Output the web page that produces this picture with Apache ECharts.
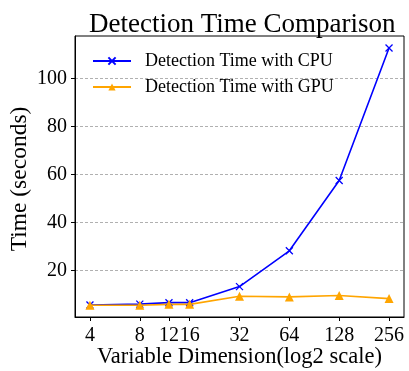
<!DOCTYPE html>
<html>
<head>
<meta charset="utf-8">
<script src="https://cdn.jsdelivr.net/npm/echarts@6/dist/echarts.min.js"></script>
<style>
html, body { margin: 0; padding: 0; background: #fff; }
#chart { width: 409px; height: 371px; }
</style>
</head>
<body>
<div id="chart"></div>
<script>
// data
var dims = [4, 8, 12, 16, 32, 64, 128, 256];
var cpuTimes = [5.6, 6.0, 6.6, 6.6, 13.3, 28.2, 57.5, 112.7];
var gpuTimes = [5.5, 5.5, 5.9, 5.9, 9.3, 9.0, 9.6, 8.3];
var xTicks = [4, 8, 12, 16, 32, 64, 128, 256];
var yTicks = [20, 40, 60, 80, 100];

var FONT = '"Liberation Serif", "Times New Roman", serif';

function pairs(xs, ys) {
    return xs.map(function (x, i) { return [x, ys[i]]; });
}

var chart = echarts.init(document.getElementById('chart'), null, { renderer: 'canvas' });

var option = {
    animation: false,
    backgroundColor: '#fff',
    title: {
        text: 'Detection Time Comparison',
        left: 89,
        top: 11,
        padding: 0,
        textStyle: { fontFamily: FONT, fontSize: 27, fontWeight: 'normal', color: '#000' }
    },
    legend: {
        orient: 'vertical',
        left: 92,
        top: 52,
        padding: 0,
        itemWidth: 38,
        itemHeight: 9,
        itemGap: 8,
        textStyle: { fontFamily: FONT, fontSize: 18, color: '#000', padding: [0, 0, 0, 9] },
        data: ['Detection Time with CPU', 'Detection Time with GPU']
    },
    grid: {
        left: 75,
        right: 5,
        top: 36,
        bottom: 54,
        show: true,
        borderColor: '#000',
        borderWidth: 1,
        containLabel: false,
        outerBoundsMode: 'none'
    },
    xAxis: {
        type: 'log',
        logBase: 2,
        min: 3.249,
        max: 315.2,
        name: 'Variable Dimension(log2 scale)',
        nameLocation: 'middle',
        nameGap: 29,
        nameMoveOverlap: false,
        nameTextStyle: { fontFamily: FONT, fontSize: 22.5, color: '#000' },
        axisLine: { lineStyle: { color: '#000', width: 1 } },
        axisTick: { customValues: xTicks, length: 4, lineStyle: { color: '#000' } },
        axisLabel: {
            customValues: xTicks,
            hideOverlap: false,
            margin: 9,
            fontFamily: FONT, fontSize: 20, color: '#000'
        },
        splitLine: { show: false }
    },
    yAxis: {
        type: 'value',
        min: 0.63,
        max: 117.7,
        name: 'Time (seconds)',
        nameLocation: 'middle',
        nameGap: 43,
        nameMoveOverlap: false,
        nameTextStyle: { fontFamily: FONT, fontSize: 23.5, color: '#000', padding: [0, 5, 0, 0] },
        axisLine: { show: true, lineStyle: { color: '#000', width: 1 } },
        axisTick: { show: true, customValues: yTicks, length: 4, lineStyle: { color: '#000' } },
        axisLabel: {
            customValues: yTicks,
            margin: 8,
            fontFamily: FONT, fontSize: 20, color: '#000'
        },
        splitLine: { show: true, lineStyle: { color: '#b0b0b0', type: [3, 2], width: 1 } }
    },
    series: [
        {
            name: 'Detection Time with CPU',
            type: 'line',
            data: pairs(dims, cpuTimes),
            symbol: 'path://M0,0L10,10M10,0L0,10',
            symbolSize: 7,
            lineStyle: { color: '#0000ff', width: 1.6 },
            itemStyle: { color: 'none', borderColor: '#0000ff', borderWidth: 1.3 }
        },
        {
            name: 'Detection Time with GPU',
            type: 'line',
            data: pairs(dims, gpuTimes),
            symbol: 'triangle',
            symbolSize: 9,
            lineStyle: { color: '#ffa500', width: 1.6 },
            itemStyle: { color: '#ffa500', borderWidth: 0 }
        }
    ]
};

chart.setOption(option);
</script>
</body>
</html>
